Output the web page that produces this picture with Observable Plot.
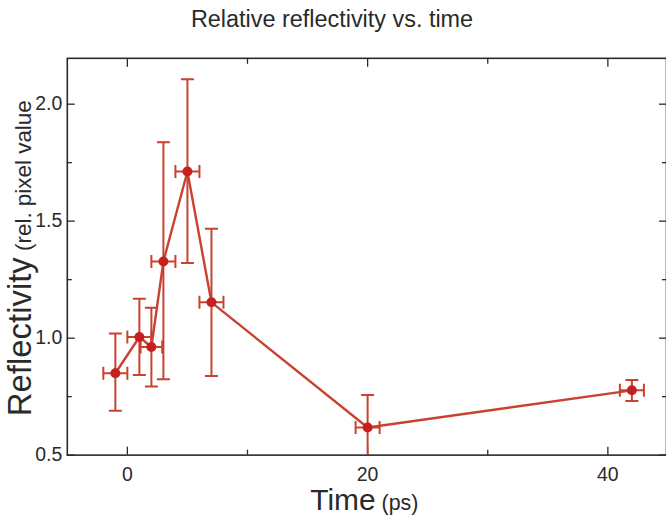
<!DOCTYPE html>
<html>
<head>
<meta charset="utf-8">
<script src="https://cdn.jsdelivr.net/npm/d3@7"></script>
<script src="https://cdn.jsdelivr.net/npm/@observablehq/plot@0.6"></script>
<style>
  html, body { margin: 0; padding: 0; background: #fff; overflow: hidden; }
  #wrap { width: 666px; height: 524px; overflow: hidden; }
</style>
</head>
<body>
<div id="wrap"></div>
<script>
// Data
const time     = [-1, 1, 2, 3, 5, 7, 20, 42];
const timeErr  = [1, 1, 0.9, 1, 1, 1, 1, 1];
const refl     = [0.85, 1.005, 0.962, 1.328, 1.712, 1.153, 0.618, 0.777];
const reflLow  = [0.69, 0.842, 0.793, 0.824, 1.321, 0.838, 0.48, 0.731];
const reflHigh = [1.02, 1.168, 1.13, 1.837, 2.107, 1.468, 0.757, 0.821];

const xMajor = [0, 20, 40];
const xMinor = [10, 30];
const yMajor = [0.5, 1.0, 1.5, 2.0];
const yMinor = [0.75, 1.25, 1.75];

const titleText = "Relative reflectivity vs. time";
const yLabelMain = "Reflectivity";
const yLabelSub = " (rel. pixel value";
const xLabelMain = "Time";
const xLabelSub = " (ps)";

const data = time.map((t, i) => ({
  t, tLo: t - timeErr[i], tHi: t + timeErr[i],
  r: refl[i], rLo: reflLow[i], rHi: reflHigh[i]
}));

const lineColor = "#c9412f";
const dotColor = "#c42020";
const axisColor = "#2a2a2a";

// custom cap symbols (line segments), half-length = r
const hCap = { draw(ctx, size) { const r = Math.sqrt(size / Math.PI); ctx.moveTo(-r, 0); ctx.lineTo(r, 0); } };
const vCap = { draw(ctx, size) { const r = Math.sqrt(size / Math.PI); ctx.moveTo(0, -r); ctx.lineTo(0, r); } };

const W = 668, H = 524, mL = 67, mR = 0, mT = 58, mB = 68;

const chart = Plot.plot({
  width: W,
  height: H,
  marginLeft: mL,
  marginRight: mR,
  marginTop: mT,
  marginBottom: mB,
  style: { fontFamily: "'Liberation Sans', Arial, Helvetica, sans-serif", color: axisColor, background: "#fff" },
  x: { domain: [-5, 44.88], label: null },
  y: { domain: [0.5, 2.196], label: null },
  marks: [
    // inward ticks, all four sides
    Plot.axisX(xMajor, { anchor: "bottom", tickSize: -8, fill: "none", strokeWidth: 1.3, label: null }),
    Plot.axisX(xMinor, { anchor: "bottom", tickSize: -5, fill: "none", strokeWidth: 1.3, label: null }),
    Plot.axisX(xMajor, { anchor: "top", tickSize: -8, fill: "none", strokeWidth: 1.3, label: null }),
    Plot.axisX(xMinor, { anchor: "top", tickSize: -5, fill: "none", strokeWidth: 1.3, label: null }),
    Plot.axisY(yMajor, { anchor: "left", tickSize: -8, fill: "none", strokeWidth: 1.3, label: null }),
    Plot.axisY(yMinor, { anchor: "left", tickSize: -5, fill: "none", strokeWidth: 1.3, label: null }),
    Plot.axisY(yMajor, { anchor: "right", tickSize: -8, fill: "none", strokeWidth: 1.3, label: null }),
    Plot.axisY(yMinor, { anchor: "right", tickSize: -5, fill: "none", strokeWidth: 1.3, label: null }),
    // tick labels
    Plot.axisX(xMajor, { anchor: "bottom", tickSize: 0, tickPadding: 12, fontSize: 19.5, label: null, tickFormat: d => d3.format("d")(d) }),
    Plot.axisY(yMajor, { anchor: "left", tickSize: 0, tickPadding: 5, fontSize: 19.5, label: null, tickFormat: d => d.toFixed(1) }),
    Plot.frame({ stroke: axisColor, strokeWidth: 1.6 }),
    // error bars
    Plot.ruleX(data, { x: "t", y1: "rLo", y2: "rHi", stroke: lineColor, strokeWidth: 2, clip: true }),
    Plot.ruleY(data, { y: "r", x1: "tLo", x2: "tHi", stroke: lineColor, strokeWidth: 2, clip: true }),
    Plot.dot(data, { x: "t", y: "rLo", symbol: hCap, r: 6.5, stroke: lineColor, fill: "none", strokeWidth: 2, clip: true }),
    Plot.dot(data, { x: "t", y: "rHi", symbol: hCap, r: 6.5, stroke: lineColor, fill: "none", strokeWidth: 2, clip: true }),
    Plot.dot(data, { x: "tLo", y: "r", symbol: vCap, r: 6.5, stroke: lineColor, fill: "none", strokeWidth: 2, clip: true }),
    Plot.dot(data, { x: "tHi", y: "r", symbol: vCap, r: 6.5, stroke: lineColor, fill: "none", strokeWidth: 2, clip: true }),
    // connecting line and points
    Plot.line(data, { x: "t", y: "r", stroke: lineColor, strokeWidth: 2.4 }),
    Plot.dot(data, { x: "t", y: "r", r: 5, fill: dotColor, stroke: "none" }),
    // title
    Plot.text([titleText], { frameAnchor: "top", dx: -35, dy: -31, lineAnchor: "bottom", fontSize: 23.5, fill: "#2a2a2a" })
  ]
});

// Axis titles with mixed font sizes
const svg = d3.select(chart);
const frameCx = mL + (W - mL - mR) / 2;
const frameCy = mT + (H - mT - mB) / 2;

const yl = svg.append("text")
  .attr("transform", `translate(31,${frameCy + 2}) rotate(-90)`)
  .attr("text-anchor", "middle")
  .attr("fill", "#2a2a2a");
yl.append("tspan").attr("font-size", 33).text(yLabelMain);
yl.append("tspan").attr("font-size", 22.5).text(yLabelSub);

const xl = svg.append("text")
  .attr("transform", `translate(${frameCx - 2},512)`)
  .attr("text-anchor", "middle")
  .attr("fill", "#2a2a2a");
xl.append("tspan").attr("font-size", 30).text(xLabelMain);
xl.append("tspan").attr("font-size", 21.5).text(xLabelSub);

document.getElementById("wrap").appendChild(chart);
</script>
</body>
</html>
